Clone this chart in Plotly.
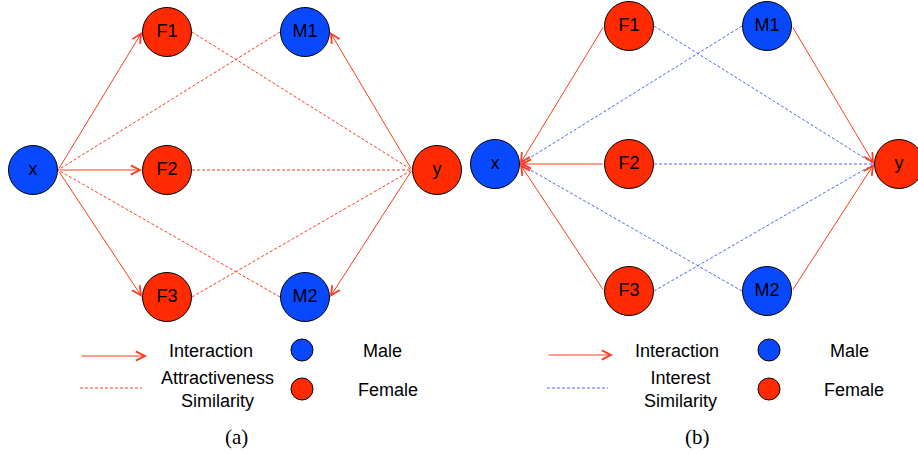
import plotly.graph_objects as go

W, H = 918, 454

# ---- graph data ----
node_names = ["x", "F1", "F2", "F3", "M1", "M2", "y"]
node_gender = ["Male", "Female", "Female", "Female", "Male", "Male", "Female"]
# layout coordinates of the nodes (layer position, row position)
node_col = [0, 134, 134, 134, 272, 272, 404]
node_row = [0, 138, 0, -127, 138, -127, 0]

a_interaction = [("x", "F1"), ("x", "F2"), ("x", "F3"), ("y", "M1"), ("y", "M2")]
a_similarity = [("F1", "y"), ("F2", "y"), ("F3", "y"), ("M1", "x"), ("M2", "x")]
b_interaction = [("F1", "x"), ("F2", "x"), ("F3", "x"), ("M1", "y"), ("M2", "y")]
b_similarity = [("F1", "y"), ("F2", "y"), ("F3", "y"), ("M1", "x"), ("M2", "x")]

legend_interaction = "Interaction"
a_similarity_label = "Attractiveness<br>Similarity"
b_similarity_label = "Interest<br>Similarity"
legend_male = "Male"
legend_female = "Female"
captions = ["(a)", "(b)"]

# ---- styles ----
RED_NODE = "#FF2A00"
BLUE_NODE = "#0848FF"
RED_EDGE = "#FF3A1E"
BLUE_EDGE = "#4A66FF"
DASH = "3px,2px"
FONT = "Helvetica, Liberation Sans, Arial, sans-serif"
SERIF = "CMU Serif, Liberation Serif, DejaVu Serif, serif"
NODE_D = 49
NODE_R = 25
gender_color = {"Male": BLUE_NODE, "Female": RED_NODE}

# panel origins in pixels (where layout origin is placed)
panels = [
    dict(xa="x", ya="y", ox=33, oy=170, inter=a_interaction, sim=a_similarity, sim_color=RED_EDGE),
    dict(xa="x2", ya="y2", ox=495, oy=164, inter=b_interaction, sim=b_similarity, sim_color=BLUE_EDGE),
]

pos = {n: (c, r) for n, c, r in zip(node_names, node_col, node_row)}

fig = go.Figure()
annotations = []
shapes = []


def ports(a, b):
    (xa, ya), (xb, yb) = pos[a], pos[b]
    if xa < xb:
        return (xa + NODE_R, ya), (xb - NODE_R, yb)
    return (xa - NODE_R, ya), (xb + NODE_R, yb)


for p in panels:
    # similarity (dashed) edges
    for s, t in p["sim"]:
        (x0, y0), (x1, y1) = ports(s, t)
        fig.add_trace(go.Scatter(x=[x0, x1], y=[y0, y1], mode="lines",
                                 line=dict(color=p["sim_color"], width=1, dash=DASH),
                                 xaxis=p["xa"], yaxis=p["ya"], hoverinfo="skip", showlegend=False))
    # interaction arrows
    for s, t in p["inter"]:
        (x0, y0), (x1, y1) = ports(s, t)
        annotations.append(dict(x=x1, y=y1, ax=x0, ay=y0, xref=p["xa"], yref=p["ya"],
                                axref=p["xa"], ayref=p["ya"], text="", showarrow=True,
                                arrowhead=5, arrowsize=1.8, arrowwidth=1, arrowcolor=RED_EDGE,
                                standoff=0, startstandoff=0))
    # nodes
    fig.add_trace(go.Scatter(x=node_col, y=node_row, mode="markers+text", text=node_names,
                             textposition="middle center",
                             textfont=dict(family=FONT, size=18, color="black"),
                             marker=dict(size=NODE_D, color=[gender_color[g] for g in node_gender],
                                         line=dict(color="black", width=1)),
                             xaxis=p["xa"], yaxis=p["ya"], cliponaxis=False,
                             hoverinfo="skip", showlegend=False))


def px(x):
    return x / W


def py(y):
    return 1 - y / H


# ---- legends ----
legend_specs = [
    dict(ax0=80, ax1=147, ay=356, tx=211, dx1=142, sx=217, cx=302, mx=382, fx=388,
         label=a_similarity_label, color=RED_EDGE, capx=236),
    dict(ax0=547, ax1=613, ay=355, tx=677, dx1=608, sx=680, cx=769, mx=849, fx=854,
         label=b_similarity_label, color=BLUE_EDGE, capx=697),
]
for i, L in enumerate(legend_specs):
    annotations.append(dict(x=px(L["ax1"]), y=py(L["ay"]), xref="paper", yref="paper",
                            ax=L["ax0"] - L["ax1"], ay=0, text="", showarrow=True,
                            arrowhead=5, arrowsize=1.8, arrowwidth=1, arrowcolor=RED_EDGE,
                            standoff=0))
    shapes.append(dict(type="line", xref="paper", yref="paper",
                       x0=px(L["ax0"]), x1=px(L["dx1"]), y0=py(388), y1=py(388),
                       line=dict(color=L["color"], width=1, dash=DASH)))
    for cy, col in [(350, BLUE_NODE), (389, RED_NODE)]:
        shapes.append(dict(type="circle", xref="paper", yref="paper",
                           x0=px(L["cx"] - 11), x1=px(L["cx"] + 11),
                           y0=py(cy + 11), y1=py(cy - 11),
                           fillcolor=col, line=dict(color="black", width=1)))
    txt = [
        (L["tx"], 351, legend_interaction),
        (L["sx"], 389.5, L["label"]),
        (L["mx"], 351, legend_male),
        (L["fx"], 390, legend_female),
    ]
    for x, y, t in txt:
        annotations.append(dict(x=px(x), y=py(y), xref="paper", yref="paper", text=t,
                                showarrow=False, xanchor="center", yanchor="middle",
                                font=dict(family=FONT, size=18, color="black")))
    annotations.append(dict(x=px(L["capx"]), y=py(437), xref="paper", yref="paper",
                            text=captions[i], showarrow=False, xanchor="center", yanchor="middle",
                            font=dict(family=SERIF, size=21, color="black")))

ax_common = dict(visible=False, showgrid=False, zeroline=False, fixedrange=True)
fig.update_layout(
    width=W, height=H, margin=dict(l=0, r=0, t=0, b=0),
    paper_bgcolor="white", plot_bgcolor="white",
    xaxis=dict(domain=[0, 1], range=[-panels[0]["ox"], W - panels[0]["ox"]], **ax_common),
    yaxis=dict(domain=[0, 1], range=[panels[0]["oy"] - H, panels[0]["oy"]], **ax_common),
    xaxis2=dict(domain=[0, 1], range=[-panels[1]["ox"], W - panels[1]["ox"]], overlaying="x", **ax_common),
    yaxis2=dict(domain=[0, 1], range=[panels[1]["oy"] - H, panels[1]["oy"]], overlaying="y", **ax_common),
    annotations=annotations, shapes=shapes, showlegend=False,
)

fig.write_html("out.html", config=dict(displayModeBar=False),
               post_script="document.body.style.margin='0px';document.body.style.overflow='hidden';")
